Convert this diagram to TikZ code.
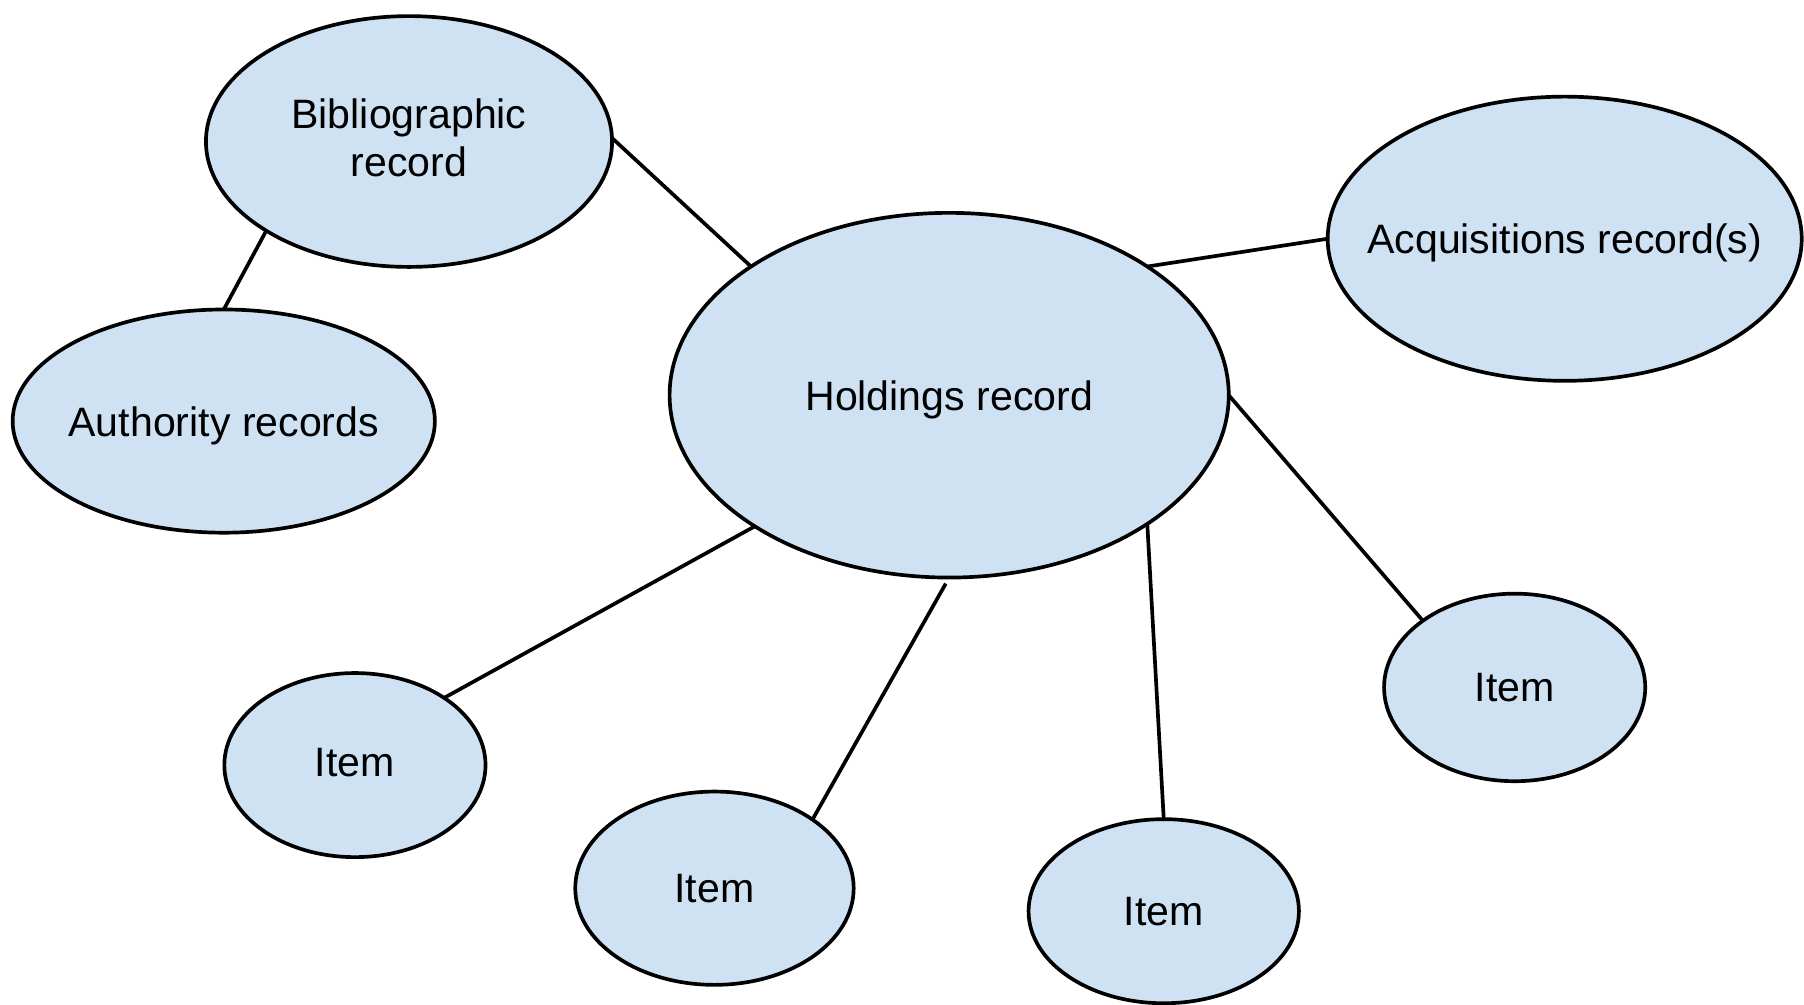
\documentclass[tikz,border=0pt]{standalone}
\usepackage{fontspec}
\setmainfont{Liberation Sans}
\usetikzlibrary{shapes.geometric}
\definecolor{bubble}{HTML}{CFE2F3}
\begin{document}
\begin{tikzpicture}[x=0.5pt,y=-0.5pt,
  bub/.style={ellipse,draw=black,fill=bubble,line width=1.6pt,inner sep=0pt,outer sep=0pt},
  lbl/.style={font=\fontsize{17.85}{21}\selectfont,align=center,inner sep=0pt},
  link/.style={draw=black,line width=1.6pt}]
\useasboundingbox (0,0) rectangle (1568,873);
\node[bub,minimum width=176.5pt,minimum height=109pt,label={[lbl,yshift=1.5pt]center:Bibliographic\\record}] (bib) at (355.5,123) {};
\node[bub,minimum width=183.5pt,minimum height=97pt,label={[lbl,yshift=-2pt]center:Authority records}] (auth) at (194.5,366) {};
\node[bub,minimum width=243pt,minimum height=158.5pt,label={[lbl,yshift=-2pt]center:Holdings record}] (hold) at (825,343.5) {};
\node[bub,minimum width=206pt,minimum height=123.5pt,label={[lbl,yshift=-2pt]center:Acquisitions record(s)}] (acq) at (1360,207.5) {};
\node[bub,minimum width=113.5pt,minimum height=80pt,label={[lbl,yshift=1pt]center:Item}] (item1) at (308.5,665) {};
\node[bub,minimum width=121pt,minimum height=84pt,label={[lbl]center:Item}] (item2) at (621,772) {};
\node[bub,minimum width=117.5pt,minimum height=80pt,label={[lbl]center:Item}] (item3) at (1011.5,792) {};
\node[bub,minimum width=113.5pt,minimum height=81.5pt,label={[lbl]center:Item}] (item4) at (1316.5,597.5) {};
\draw[link] (bib.212) -- (auth.90);
\draw[link] (bib.1) -- (hold.147);
\draw[link] (hold.33) -- (acq.180);
\draw[link] (hold.0) -- (item4.144);
\draw[link] (hold.214) -- (item1.37);
\draw[link,shorten <=3pt] (hold.270) -- (item2.35);
\draw[link] (hold.327) -- (item3.90);
\end{tikzpicture}
\end{document}
